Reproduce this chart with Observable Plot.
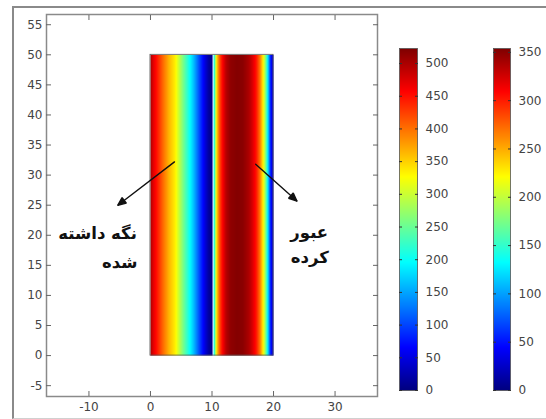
<!DOCTYPE html>
<html><head><meta charset="utf-8">
<script src="https://cdn.jsdelivr.net/npm/d3@7"></script>
<script src="https://cdn.jsdelivr.net/npm/@observablehq/plot@0.6"></script>
<style>
body{margin:0;background:#fff;}
#wrap{position:relative;width:546px;height:419px;overflow:hidden;background:#fff;font-family:"DejaVu Sans",sans-serif;}
#outer{position:absolute;left:12px;top:6px;width:560px;height:410px;border-left:2px solid #8a8a8a;border-top:2px solid #8a8a8a;border-bottom:1px solid #d0d0d0;}
.pane{position:absolute;top:0;left:0;}
</style></head>
<body><div id="wrap"><div id="outer"></div></div>
<script>
// ---- data ----
const xTicks = [-10, 0, 10, 20, 30];
const yTicks = [-5, 0, 5, 10, 15, 20, 25, 30, 35, 40, 45, 50, 55];
const region = [{x1: 0, x2: 20, y1: 0, y2: 50}];
// held part (left), temperature profile across x, scale 1
const leftX = [0, 0.5, 1, 2, 3, 4, 5, 6, 7, 8, 9, 9.5, 10];
const leftT = [500, 470, 450, 405, 365, 335, 275, 220, 165, 100, 40, 15, 5];
// passed part (right), scale 2
const rightX = [10.25, 10.5, 10.8, 11.2, 11.7, 12.3, 13, 14, 15, 16, 16.6, 17.2, 17.8, 18.3, 18.7, 19, 19.5, 20];
const rightT = [110, 180, 240, 280, 310, 335, 348, 352, 350, 338, 322, 302, 268, 225, 180, 135, 55, 20];
const bar1Max = 523, bar1Ticks = [0, 50, 100, 150, 200, 250, 300, 350, 400, 450, 500];
const bar2Max = 354, bar2Ticks = [0, 50, 100, 150, 200, 250, 300, 350];
const labels = [
  {x: -8.6, y: 20.3, text: "نگه داشته"},
  {x: -5.0, y: 15.5, text: "شده"},
  {x: 25.8, y: 20.5, text: "عبور"},
  {x: 25.9, y: 16.3, text: "کرده"}
];
const arrows = [
  {x1: 3.9, y1: 32.2, x2: -5.3, y2: 25.0},
  {x1: 17.1, y1: 31.8, x2: 23.8, y2: 25.7}
];

// jet colormap
const jetStops = [0, 0.125, 0.375, 0.625, 0.875, 1];
const jetColors = ["#00007f", "#0000ff", "#00ffff", "#ffff00", "#ff0000", "#7f0000"];
const jetScale = d3.scaleLinear().domain(jetStops).range(jetColors).interpolate(d3.interpolateRgb).clamp(true);
const jet = t => jetScale(t);

const fLeft = d3.scaleLinear().domain(leftX).range(leftT);
const fRight = d3.scaleLinear().domain(rightX).range(rightT);
function field(x) {
  if (x >= leftX[0] && x <= leftX[leftX.length - 1]) return fLeft(x) / bar1Max;
  if (x >= rightX[0] && x <= rightX[rightX.length - 1]) return fRight(x) / bar2Max;
  return NaN;
}
const fmt = d => String(d);

// filled arrowheads drawn at each arrow's end
function filledHeads(index, scales, values, dims, ctx, next) {
  const g = next(index, scales, values, dims, ctx);
  const X1 = values.x1, Y1 = values.y1, X2 = values.x2, Y2 = values.y2;
  for (const i of index) {
    const a = Math.atan2(Y2[i] - Y1[i], X2[i] - X1[i]);
    const L = 8, W = 3.5;
    const bx = X2[i] - L * Math.cos(a), by = Y2[i] - L * Math.sin(a);
    const px = -Math.sin(a) * W, py = Math.cos(a) * W;
    d3.select(g).append("path")
      .attr("d", `M${X2[i]},${Y2[i]}L${bx + px},${by + py}L${bx - px},${by - py}Z`)
      .attr("fill", "#111");
  }
  return g;
}

const main = Plot.plot({
  width: 380, height: 419,
  marginLeft: 46, marginRight: 3, marginTop: 14, marginBottom: 23,
  style: {fontFamily: "DejaVu Sans, sans-serif", fontSize: "12px", color: "#444", background: "transparent"},
  x: {domain: [-16.9, 36.9]},
  y: {domain: [-6.8, 56.7]},
  color: {type: "linear", domain: [0, 1], interpolate: jet},
  marks: [
    Plot.raster({x1: 0, x2: 20, y1: 0, y2: 50, fill: (x, y) => field(x), pixelSize: 1, imageRendering: "auto"}),
    Plot.rect(region, {x1: "x1", x2: "x2", y1: "y1", y2: "y2", fill: "none", stroke: "#555", strokeWidth: 0.8}),
    Plot.frame({stroke: "#8a8a8a", strokeWidth: 1.5}),
    Plot.axisX(xTicks, {anchor: "bottom", tickSize: -5, tickPadding: 11, tickFormat: fmt, stroke: "#666", fill: "#444", label: null}),
    Plot.axisX(xTicks, {anchor: "top", tickSize: -5, tickFormat: () => "", stroke: "#666", label: null}),
    Plot.axisY(yTicks, {anchor: "left", tickSize: -5, tickPadding: 9, tickFormat: fmt, stroke: "#666", fill: "#444", label: null}),
    Plot.axisY(yTicks, {anchor: "right", tickSize: -5, tickFormat: () => "", stroke: "#666", label: null}),
    Plot.arrow(arrows, {x1: "x1", y1: "y1", x2: "x2", y2: "y2", stroke: "#111", strokeWidth: 1.4, headLength: 0, bend: 0, render: filledHeads}),
    Plot.text(labels, {x: "x", y: "y", text: "text", fontSize: 16.5, fontWeight: "bold", fill: "#111", fontFamily: "DejaVu Sans"})
  ]
});
main.classList.add("pane");
document.getElementById("wrap").appendChild(main);

function colorbar(max, ticks, left, width, right) {
  const p = Plot.plot({
    width, height: 419,
    marginLeft: 0, marginRight: right, marginTop: 48, marginBottom: 29,
    style: {fontFamily: "DejaVu Sans, sans-serif", fontSize: "12px", color: "#444", background: "transparent"},
    x: {domain: [0, 1], axis: null},
    y: {domain: [0, max]},
    color: {type: "linear", domain: [0, max], interpolate: jet},
    marks: [
      Plot.raster({x1: 0, x2: 1, y1: 0, y2: max, fill: (x, y) => y, pixelSize: 1}),
      Plot.frame({stroke: "#555", strokeWidth: 0.8}),
      Plot.axisY(ticks, {anchor: "right", tickSize: -3, tickPadding: 11, tickFormat: fmt, stroke: "#333", fill: "#444", label: null}),
      Plot.axisY(ticks, {anchor: "left", tickSize: -3, tickFormat: () => "", stroke: "#333", label: null})
    ]
  });
  p.classList.add("pane");
  p.style.left = left + "px";
  document.getElementById("wrap").appendChild(p);
}
colorbar(bar1Max, bar1Ticks, 399, 60, 42);
colorbar(bar2Max, bar2Ticks, 493, 53, 36);
</script></body></html>
